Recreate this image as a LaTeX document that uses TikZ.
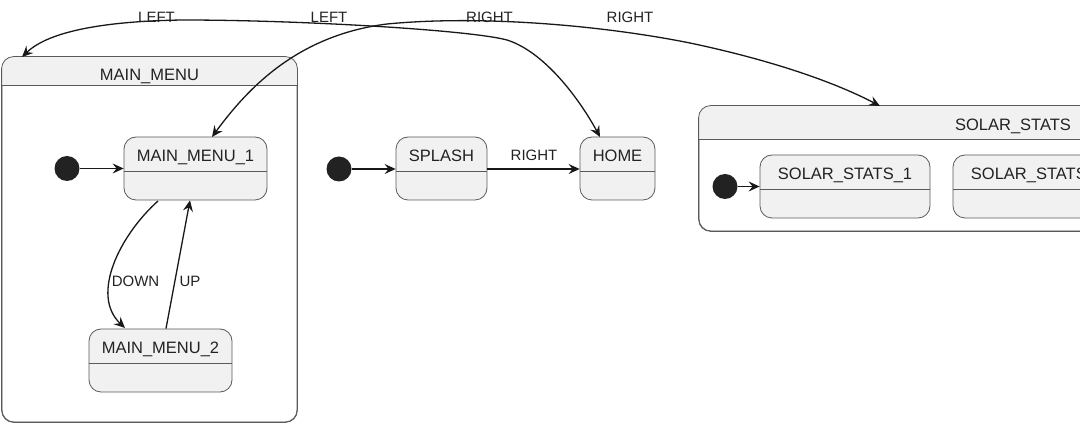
\documentclass[tikz,border=0pt]{standalone}
\usepackage{fontspec}
\setmainfont{Liberation Sans}
\usetikzlibrary{arrows.meta,positioning}

\definecolor{statefill}{HTML}{F1F1F1}
\definecolor{stateline}{HTML}{5A5A5A}
\definecolor{inkcol}{HTML}{181818}
\definecolor{textcol}{HTML}{222222}

\tikzset{
  statebox/.style={draw=stateline, fill=statefill, line width=0.8pt, rounded corners=12pt, inner sep=0pt},
  compbox/.style={draw=stateline, fill=white, line width=0.8pt, rounded corners=12pt, inner sep=0pt},
  divider/.style={draw=stateline, line width=0.8pt},
  title/.style={text=textcol, inner sep=0pt, anchor=base, font=\fontsize{16.5}{19}\selectfont},
  translabel/.style={text=textcol, inner sep=0pt, anchor=base, font=\fontsize{15}{18}\selectfont},
  startdot/.style={circle, fill=textcol, minimum size=25pt, inner sep=0pt},
  trans/.style={draw=inkcol, line width=1.3pt, ->},
  >={Stealth[length=11pt, width=10pt, inset=4pt]}
}

\begin{document}
\begin{tikzpicture}[x=1pt, y=-1pt]
		\useasboundingbox (0,0) rectangle (1080,427);
		\clip (0,0) rectangle (1080,427);

		% composite state MAIN_MENU
		\node[compbox, minimum width=295pt, minimum height=365pt] (mm) at (149.5,239.5) {};
		\begin{scope}
			\clip[rounded corners=12pt] (mm.north west) rectangle (mm.south east);
			\fill[statefill] (mm.north west) rectangle ([yshift=-29pt]mm.north east);
		\end{scope}
		\draw[stateline, line width=0.8pt, rounded corners=12pt] (mm.north west) rectangle (mm.south east);
		\draw[divider] ([yshift=-29pt]mm.north west) -- ([yshift=-29pt]mm.north east);
		\node[title] (mmt) at ([yshift=-24pt]mm.north) {MAIN\_MENU};

		% composite state SOLAR_STATS
		\node[compbox, minimum width=628pt, minimum height=125pt] (ss) at (1013,168.5) {};
		\begin{scope}
			\clip[rounded corners=12pt] (ss.north west) rectangle (ss.south east);
			\fill[statefill] (ss.north west) rectangle ([yshift=-34pt]ss.north east);
		\end{scope}
		\draw[stateline, line width=0.8pt, rounded corners=12pt] (ss.north west) rectangle (ss.south east);
		\draw[divider] ([yshift=-34pt]ss.north west) -- ([yshift=-34pt]ss.north east);
		\node[title] (sst) at ([yshift=-25pt]ss.north) {SOLAR\_STATS};

		% simple states
		\node[statebox, minimum width=143pt, minimum height=63pt] (mm1) at (195.5,168.5) {};
		\node[statebox, minimum width=143pt, minimum height=63pt] (mm2) at (160.5,360.5) {};
		\node[statebox, minimum width=91pt, minimum height=63pt] (splash) at (441.5,168.5) {};
		\node[statebox, minimum width=75pt, minimum height=63pt] (home) at (617.5,168.5) {};
		\node[statebox, minimum width=170pt, minimum height=63pt] (ss1) at (845,186.5) {};
		\node[statebox, minimum width=170pt, minimum height=63pt] (ss2) at (1038,186.5) {};
		\foreach \s/\txt in {mm1/MAIN\_MENU\_1, mm2/MAIN\_MENU\_2, splash/SPLASH, home/HOME, ss1/SOLAR\_STATS\_1, ss2/SOLAR\_STATS\_2}{
			\draw[divider] ([yshift=-35pt]\s.north west) -- ([yshift=-35pt]\s.north east);
			\node[title] (\s t) at ([yshift=-25pt]\s.north) {\txt};
		}

		% initial states
		\node[startdot] (init1) at (67,168.5) {};
		\node[startdot] (init2) at (339,169) {};
		\node[startdot] (init3) at (725,186.5) {};
		\draw[trans] (init1) -- (mm1.west |- init1);
		\draw[trans] (init2) -- (splash.west |- init2);
		\draw[trans] (init3) -- (ss1.west |- init3);

		% splash to home
		\draw[trans] (splash.east |- init2) -- (home.west |- init2);
		\node[translabel] (rsh) at (534,161) {RIGHT};

		% inside MAIN_MENU
		\coordinate (mm1bot) at (158,201);
		\coordinate (mm2top) at (125,328);
		\draw[trans] (mm1bot) .. controls (120,235) and (90,295) .. (mm2top);
		\draw[trans] (mm2.north -| 166,0) -- (mm1.south -| 190,0);
		\node[translabel] (ldown) at (135.5,287) {DOWN};
		\node[translabel] (lup) at (190,287) {UP};

		% long transitions over the top
		\coordinate (mmtop) at (22,57);
		\coordinate (hometop) at (600,137);
		\coordinate (mm1top) at (212,137);
		\coordinate (sstop) at (880,106);
		\draw[trans, <->] (mmtop) .. controls (50,30) and (110,21) .. (183,20)
			.. controls (300,20) and (470,30) .. (507,40)
			.. controls (545,52) and (580,100) .. (hometop);
		\draw[trans, <->] (mm1top) .. controls (250,85) and (300,35) .. (387,24)
			.. controls (480,15) and (600,25) .. (690,43)
			.. controls (780,62) and (840,85) .. (sstop);
		\node[translabel] (l1) at (156.5,22.5) {LEFT};
		\node[translabel] (l2) at (329,22.5) {LEFT};
		\node[translabel] (r1) at (489.5,23) {RIGHT};
		\node[translabel] (r2) at (630,23) {RIGHT};
	\end{tikzpicture}
\end{document}
